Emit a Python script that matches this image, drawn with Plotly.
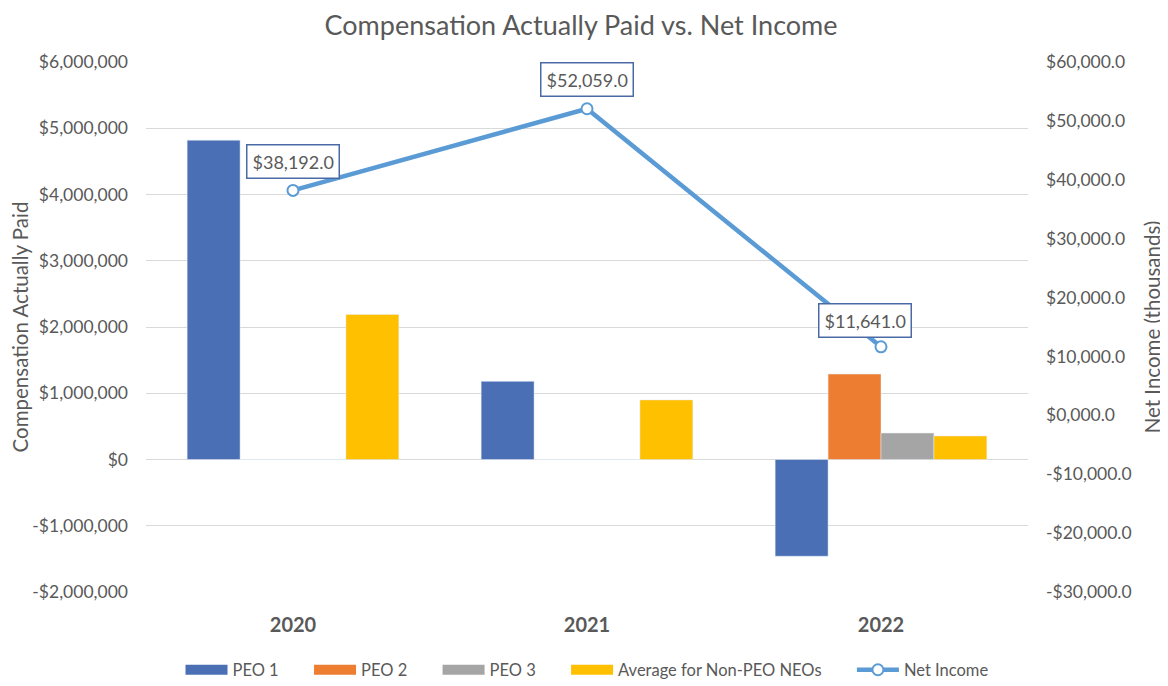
import plotly.graph_objects as go

years = ["2020", "2021", "2022"]
peo1 = [4820000, 1180000, -1460000]
peo2 = [0, 0, 1290000]
peo3 = [0, 0, 400000]
avg_neo = [2190000, 900000, 355000]
net_income = [38192.0, 52059.0, 11641.0]
net_income_labels = ["$38,192.0", "$52,059.0", "$11,641.0"]

left_ticks = [-2000000, -1000000, 0, 1000000, 2000000, 3000000, 4000000, 5000000, 6000000]
left_text = ["-$2,000,000", "-$1,000,000", "$0", "$1,000,000", "$2,000,000",
             "$3,000,000", "$4,000,000", "$5,000,000", "$6,000,000"]
right_ticks = [-30000, -20000, -10000, 0, 10000, 20000, 30000, 40000, 50000, 60000]
right_text = ["-$30,000.0", "-$20,000.0", "-$10,000.0", "$0,000.0", "$10,000.0",
              "$20,000.0", "$30,000.0", "$40,000.0", "$50,000.0", "$60,000.0"]

bar_names = ["PEO 1", "PEO 2", "PEO 3", "Average for Non-PEO NEOs"]
bar_values = [peo1, peo2, peo3, avg_neo]
bar_colors = ["#4A6FB5", "#ED7D31", "#A5A5A5", "#FFC000"]

grey = "#595959"
font_family = "Lato, Open Sans, sans-serif"
pad = "\u00a0" * 6

fig = go.Figure()
for name, vals, col in zip(bar_names, bar_values, bar_colors):
    fig.add_bar(x=years, y=vals, name=name, marker_color=col, showlegend=False,
                legendgroup=name)
    # legend swatch (wide thin rectangle like the original)
    fig.add_scatter(x=[None], y=[None], mode="lines", name=name + pad,
                    line=dict(color=col, width=10), legendgroup=name)

fig.add_scatter(x=years, y=net_income, name="Net Income", yaxis="y2",
                mode="lines+markers",
                line=dict(color="#5B9BD5", width=4.5),
                marker=dict(symbol="circle", size=11, color="white",
                            line=dict(color="#5B9BD5", width=2)))

offsets = [(0, -29), (0, -29), (-16, -26)]
for i, (v, lab, (ax, ay)) in enumerate(zip(net_income, net_income_labels, offsets)):
    fig.add_annotation(x=i, y=v, xref="x", yref="y2", text=lab, showarrow=True,
                       arrowcolor="rgba(0,0,0,0)", ax=ax, ay=ay,
                       font=dict(size=18, color=grey, family=font_family),
                       bordercolor="#4A6AA5", borderwidth=1.5, borderpad=5,
                       bgcolor="white")

fig.update_layout(
    width=1160, height=678,
    margin=dict(l=138, r=140, t=54, b=94),
    paper_bgcolor="white", plot_bgcolor="white",
    font=dict(family=font_family, color=grey, size=16),
    title=dict(text="Compensation Actually Paid vs. Net Income", x=0.494, xanchor="center",
               yref="container", y=0.974, yanchor="middle", font=dict(size=27, color=grey)),
    barmode="group", bargap=0.28, bargroupgap=0,
    xaxis=dict(type="category", automargin=False,
               tickfont=dict(size=20, color=grey, family=font_family, weight="bold"),
               ticklabelstandoff=19, showgrid=False, showline=False, ticks=""),
    yaxis=dict(range=[-2000000, 6000000], tickvals=left_ticks, ticktext=left_text,
               automargin=False,
               showgrid=True, gridcolor="#D9D9D9", gridwidth=1.3,
               zeroline=True, zerolinecolor="#D9D9D9", zerolinewidth=1.3,
               tickfont=dict(size=17.5, color=grey), ticklabelstandoff=17,
               title=dict(text="Compensation Actually Paid", font=dict(size=20.5, color=grey),
                          standoff=8)),
    yaxis2=dict(range=[-30000, 60000], tickvals=right_ticks, ticktext=right_text,
                automargin=False,
                overlaying="y", side="right", showgrid=False, zeroline=False,
                tickfont=dict(size=17.5, color=grey), ticklabelstandoff=17,
                title=dict(text="Net Income (thousands)", font=dict(size=20.5, color=grey),
                           standoff=14)),
    legend=dict(orientation="h", x=0.5, xanchor="center",
                yref="container", y=0.0236, yanchor="middle",
                font=dict(size=16.5, color=grey), traceorder="normal",
                itemwidth=42),
)

fig.write_html("out.html")
